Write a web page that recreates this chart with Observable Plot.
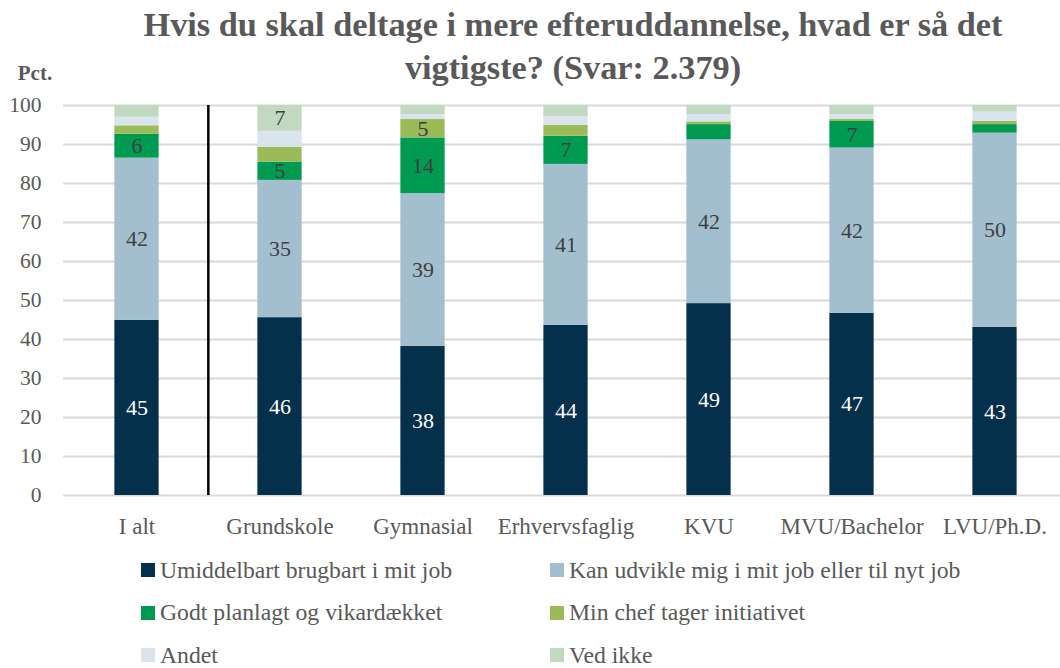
<!DOCTYPE html>
<html><head><meta charset="utf-8">
<script src="https://cdn.jsdelivr.net/npm/d3@7"></script>
<script src="https://cdn.jsdelivr.net/npm/@observablehq/plot@0.6"></script>
<style>
body{margin:0;background:#fff;font-family:"Liberation Serif",serif;color:#595959;}
#wrap{position:relative;width:1060px;height:668px;overflow:hidden;}
#chart{position:absolute;left:0;top:0;}
#title{position:absolute;left:86px;top:3px;width:974px;text-align:center;font-weight:bold;font-size:34.3px;line-height:43px;color:#595959;}
#legend{position:absolute;left:141px;top:549px;display:grid;grid-template-columns:409px 500px;grid-auto-rows:42.5px;font-size:23.7px;color:#595959;white-space:nowrap;}
.item{display:flex;align-items:center;}
.sw{width:14px;height:14px;margin-right:5px;flex:none;}
</style></head>
<body>
<div id="wrap">
<div id="chart"></div>
<div id="title">Hvis du skal deltage i mere efteruddannelse, hvad er så det<br>vigtigste? (Svar: 2.379)</div>
<div id="legend"></div>
</div>
<script>
const categories = ["I alt","Grundskole","Gymnasial","Erhvervsfaglig","KVU","MVU/Bachelor","LVU/Ph.D."];
const series = ["Umiddelbart brugbart i mit job","Kan udvikle mig i mit job eller til nyt job","Godt planlagt og vikardækket","Min chef tager initiativet","Andet","Ved ikke"];
const colors = ["#05304b","#a3bece","#009a50","#9bbb59","#d9e4ec","#c0d9c0"];
const umiddelbart = [44.9,45.6,38.2,43.6,49.2,46.7,43.1];
const kanUdvikle  = [41.6,35.2,39.2,41.3,42.0,42.4,49.8];
const godtPlanlagt= [6.1,4.7,14.3,7.2,3.9,6.8,2.2];
const minChef     = [2.2,3.8,4.7,2.8,0.7,0.5,0.8];
const andet       = [2.2,4.1,1.3,2.3,1.9,1.3,2.4];
const vedIkke     = [3.0,6.6,2.3,2.8,2.3,2.3,1.7];
const yTicks = [0,10,20,30,40,50,60,70,80,90,100];
const labelMin = 4.5;

const seriesValues = [umiddelbart,kanUdvikle,godtPlanlagt,minChef,andet,vedIkke];
const data = [];
categories.forEach((c,i)=>{
  series.forEach((s,j)=>data.push({cat:c, series:s, value:seriesValues[j][i]}));
});

const W = 1060, left = 63.33, step = (1066.67-63.33)/7, inset = (step-44.6)/2;
const font = "'Liberation Serif', serif";

const chart = Plot.plot({
  width: W, height: 545,
  marginTop: 105, marginBottom: 50, marginLeft: 63, marginRight: 0,
  style: {fontFamily: font, fontSize: "21.5px", color: "#595959", background: "white"},
  x: {domain: categories, range: [left, left + 7*step], padding: 0},
  y: {domain: [0,100]},
  color: {domain: series, range: colors},
  marks: [
    Plot.ruleY(yTicks, {y: d=>d, stroke: "#d9d9d9", strokeWidth: 2}),
    Plot.axisX({tickSize: 0, tickPadding: 22, fontSize: 23, label: null, fill: "#595959"}),
    Plot.axisY({ticks: yTicks, tickSize: 0, tickPadding: 22, fontSize: 21.5, label: null, fill: "#595959"}),
    Plot.barY(data, Plot.stackY({x: "cat", y: "value", z: "series", fill: "series", insetLeft: inset, insetRight: inset})),
    Plot.text(data, Plot.stackY({x: "cat", y: "value", z: "series",
      text: d => (d.series === series[0] && d.value >= labelMin) ? String(Math.round(d.value)) : "",
      fill: "white", fontSize: 22})),
    Plot.text(data, Plot.stackY({x: "cat", y: "value", z: "series",
      text: d => (d.series !== series[0] && d.value >= labelMin) ? String(Math.round(d.value)) : "",
      fill: "#404040", fontSize: 22})),
    Plot.ruleX([categories[1]], {x: d=>d, dx: -step/2, y1: 0, y2: 100, stroke: "black", strokeWidth: 2.5}),
    Plot.text(["Pct."], {frameAnchor: "top-left", text: d=>d, textAnchor: "middle", lineAnchor: "middle", dx: -28.5, dy: -32, fontWeight: "bold", fontSize: 21, fill: "#595959"})
  ]
});
document.getElementById("chart").appendChild(chart);

const legend = document.getElementById("legend");
series.forEach((s,j)=>{
  const it = document.createElement("div"); it.className = "item";
  const sw = document.createElement("span"); sw.className = "sw"; sw.style.background = colors[j];
  const tx = document.createElement("span"); tx.textContent = s;
  it.appendChild(sw); it.appendChild(tx); legend.appendChild(it);
});
</script>
</body></html>
